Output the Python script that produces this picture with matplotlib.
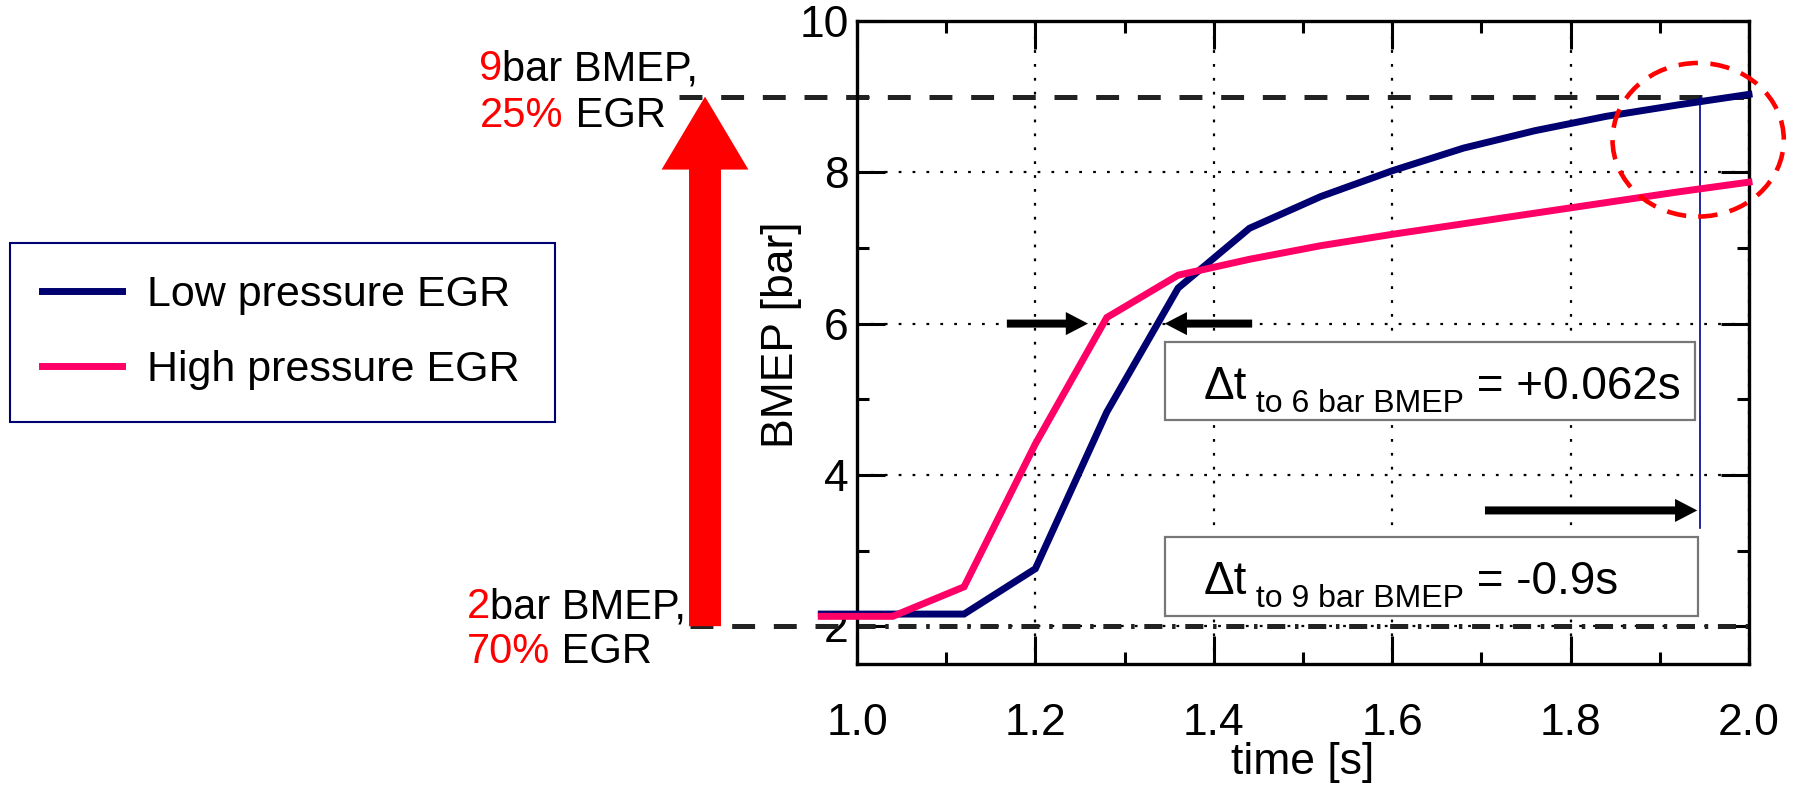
import matplotlib
matplotlib.use('Agg')
import matplotlib.pyplot as plt
from matplotlib.patches import Rectangle, Ellipse
from matplotlib.ticker import MultipleLocator, FormatStrFormatter

plt.rcParams['font.family'] = ['Liberation Sans', 'DejaVu Sans']
plt.rcParams['lines.scale_dashes'] = False

# data
time_s = [0.96, 1.04, 1.12, 1.20, 1.28, 1.36, 1.44, 1.52, 1.60, 1.68, 1.76, 1.84, 1.92, 2.00]
bmep_low_egr = [2.16, 2.16, 2.16, 2.76, 4.83, 6.47, 7.26, 7.68, 8.02, 8.32, 8.55, 8.74, 8.89, 9.03]
bmep_high_egr = [2.13, 2.13, 2.52, 4.41, 6.08, 6.64, 6.85, 7.03, 7.18, 7.32, 7.46, 7.60, 7.74, 7.87]
series_labels = ['Low pressure EGR', 'High pressure EGR']

start_bmep = 2
target_bmep = 9
mid_bmep = 6
t_at_9bar = 1.945
dt6_parts = ('Δt', ' to 6 bar BMEP', ' = +0.062s')
dt9_parts = ('Δt', ' to 9 bar BMEP', ' = -0.9s')

navy = '#000070'
pink = '#ff0066'

fig = plt.figure(figsize=(17.96, 7.86), dpi=100)
ax = fig.add_axes([857 / 1796, 1 - 664 / 786, 892 / 1796, 643 / 786])

l1, = ax.plot(time_s, bmep_low_egr, color=navy, lw=5, clip_on=False, zorder=3,
              solid_joinstyle='miter')
l2, = ax.plot(time_s, bmep_high_egr, color=pink, lw=5, clip_on=False, zorder=3.1,
              solid_joinstyle='miter')

# reference levels
ax.plot([0.80, 2.0], [target_bmep, target_bmep], color='#222222', lw=3.6,
        ls=(0, (16.5, 13.5)), clip_on=False, zorder=2)
ax.plot([0.813, 1.0], [start_bmep, start_bmep], color='#222222', lw=3.6,
        ls=(0, (16.5, 13.5)), clip_on=False, zorder=2)
ax.plot([1.0, 2.0], [start_bmep, start_bmep], color='#222222', lw=3.6,
        ls=(0, (13, 7, 2.5, 7)), zorder=2)

# big red arrow
ax.annotate('', xy=(0.8296, target_bmep), xytext=(0.8296, start_bmep),
            arrowprops=dict(arrowstyle='simple,head_length=1.05,head_width=1.25,tail_width=0.46',
                            mutation_scale=50, fc='red', ec='none', lw=0,
                            shrinkA=0, shrinkB=0),
            annotation_clip=False, zorder=5)

black_arrow = dict(arrowstyle='simple,head_length=1.0,head_width=1.04,tail_width=0.36',
                   mutation_scale=16, fc='black', ec='none', lw=0, shrinkA=0, shrinkB=0)
ax.annotate('', xy=(1.259, mid_bmep), xytext=(1.168, mid_bmep), arrowprops=black_arrow, zorder=5)
ax.annotate('', xy=(1.345, mid_bmep), xytext=(1.443, mid_bmep), arrowprops=black_arrow, zorder=5)
ax.annotate('', xy=(1.942, 3.53), xytext=(1.704, 3.53), arrowprops=black_arrow, zorder=5)

ax.plot([t_at_9bar, t_at_9bar], [target_bmep, 3.3], color='#000090', lw=1.2, zorder=3)

# text boxes
ax.add_patch(Rectangle((1.345, 4.72), 0.595, 1.04, fc='white', ec='#777777', lw=1.6, zorder=4))
ax.add_patch(Rectangle((1.345, 2.14), 0.598, 1.04, fc='white', ec='#777777', lw=1.6, zorder=4))


def delta_label(x, y, parts):
    big, sub, rest = parts
    t1 = ax.text(x, y, big, fontsize=33, va='baseline', ha='left', zorder=5)
    t2 = ax.annotate(sub, xy=(1, 0), xycoords=t1, xytext=(0, -7), textcoords='offset points',
                     fontsize=23, va='bottom', ha='left', zorder=5)
    ax.annotate(rest, xy=(1, 0), xycoords=(t2, t1), va='bottom', ha='left',
                fontsize=33, zorder=5)


delta_label(1.389, 5.0, dt6_parts)
delta_label(1.389, 2.42, dt9_parts)

ax.add_patch(Ellipse((1.943, 8.43), 0.192, 2.03, fill=False, ec='red', lw=3.3,
                     ls=(0, (14, 9)), clip_on=False, zorder=6))

# axes styling
ax.set_xlim(1.0, 2.0)
ax.set_ylim(1.5, 10)
ax.xaxis.set_major_locator(MultipleLocator(0.2))
ax.xaxis.set_minor_locator(MultipleLocator(0.1))
ax.xaxis.set_major_formatter(FormatStrFormatter('%.1f'))
ax.yaxis.set_major_locator(MultipleLocator(2))
ax.yaxis.set_minor_locator(MultipleLocator(1))
ax.tick_params(which='major', direction='in', length=20, width=2.2, labelsize=32,
               top=True, right=True)
ax.tick_params(axis='x', which='major', pad=28)
ax.tick_params(axis='y', which='major', pad=6)
ax.tick_params(which='minor', direction='in', length=8.6, width=2.2, top=True, right=True)
for s in ax.spines.values():
    s.set_linewidth(2.4)
ax.grid(True, which='major', color='black', ls=(0, (2, 8)), lw=1.6)

ax.set_xlabel('time [s]', fontsize=32)
ax.xaxis.set_label_coords(0.5, -0.121)
ax.set_ylabel('BMEP [bar]', fontsize=32)
ax.yaxis.set_label_coords(-0.0617, 0.512)

leg = fig.legend([l1, l2], series_labels, loc='upper left',
                 bbox_to_anchor=(10 / 1796, 1 - 243 / 786, 545 / 1796, 0), mode='expand',
                 fontsize=31, frameon=True, fancybox=False, edgecolor=navy, framealpha=1,
                 borderpad=0.74, labelspacing=0.82, handlelength=1.85, handletextpad=0.6,
                 borderaxespad=0)
leg.get_frame().set_linewidth(1.5)


def two_tone(x, y, red_part, black_part, size=30):
    first = fig.text(x, y, red_part, color='red', fontsize=size, va='baseline')
    ax.annotate(black_part, xy=(1, 0), xycoords=first, va='bottom', ha='left',
                fontsize=size, color='black')


two_tone(479 / 1796, 1 - 80 / 786, '9', 'bar BMEP,')
two_tone(480 / 1796, 1 - 127 / 786, '25%', ' EGR')
two_tone(467 / 1796, 1 - 618 / 786, '2', 'bar BMEP,')
two_tone(467 / 1796, 1 - 663 / 786, '70%', ' EGR')

fig.savefig('out.png', dpi=100, facecolor='white')
